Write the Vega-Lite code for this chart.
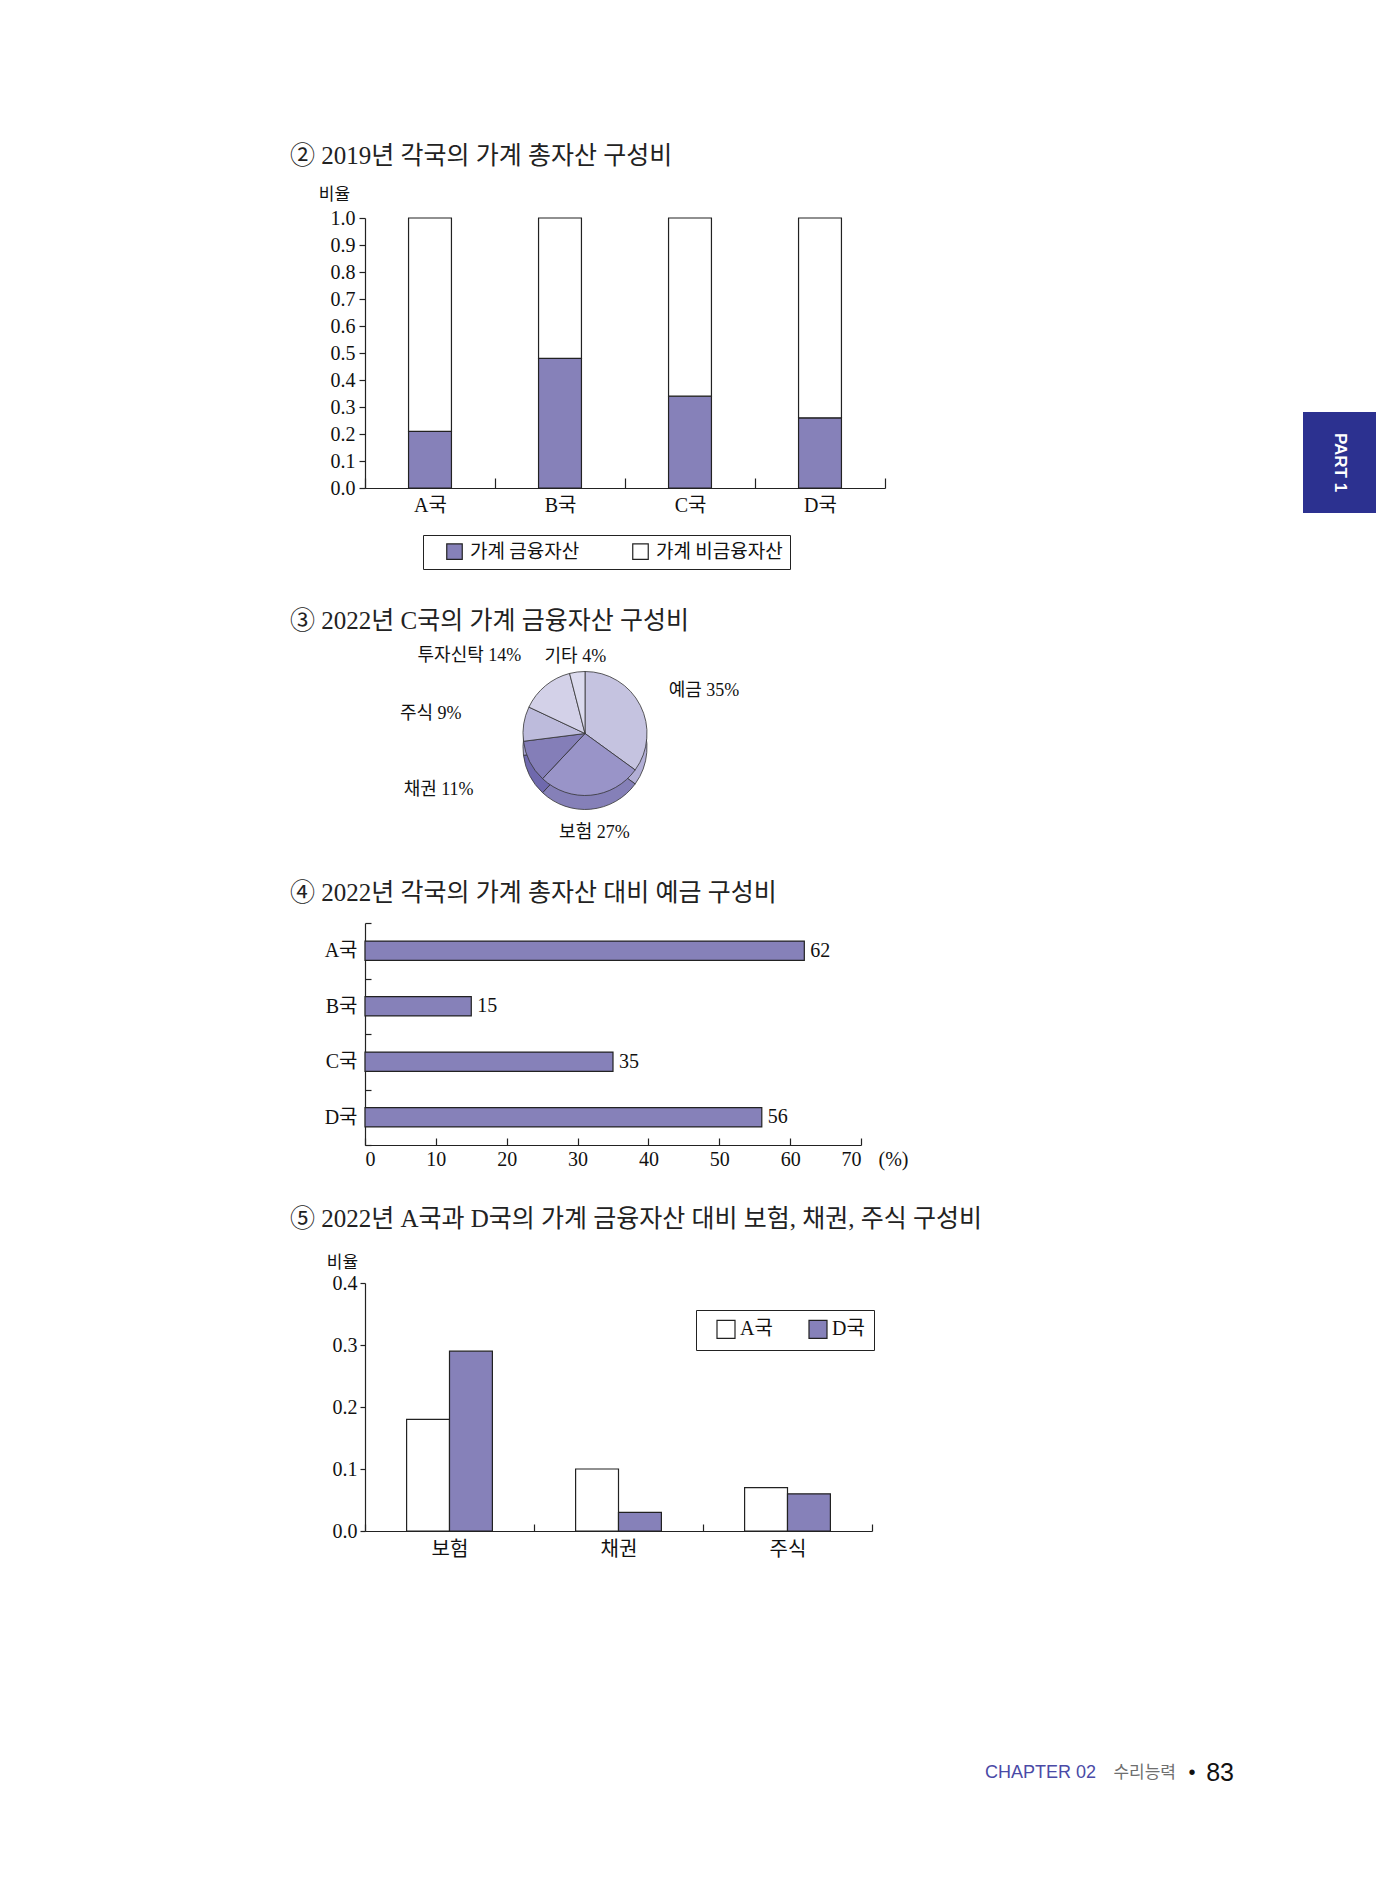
{
  "$schema": "https://vega.github.io/schema/vega-lite/v6.json",
  "background": "white",
  "padding": {"left": 290, "top": 144, "right": 0, "bottom": 0},
  "bounds": "flush",
  "spacing": 938,
  "config": {
    "view": {"stroke": null},
    "font": "Liberation Serif, Noto Sans CJK KR",
    "axis": {
      "grid": false,
      "domainColor": "#222",
      "tickColor": "#222",
      "domainWidth": 1.2,
      "tickWidth": 1.2,
      "labelColor": "#111",
      "titleColor": "#111",
      "labelFont": "Liberation Serif, Noto Sans CJK KR",
      "labelFontSize": 20,
      "titleFont": "Noto Sans CJK KR",
      "titleFontSize": 17,
      "titleFontWeight": "normal"
    },
    "title": {
      "font": "Liberation Serif, Noto Sans CJK KR",
      "fontSize": 25,
      "fontWeight": "normal",
      "color": "#222",
      "anchor": "start",
      "frame": "group",
      "dx": -75
    },
    "legend": {
      "labelColor": "#111",
      "strokeColor": "#222",
      "symbolStrokeColor": "#222",
      "symbolStrokeWidth": 1.2,
      "symbolType": "square",
      "symbolOpacity": 1
    }
  },
  "hconcat": [
    {
      "spacing": 138,
      "bounds": "flush",
      "resolve": {"scale": {"color": "independent"}, "legend": {"color": "independent"}},
      "vconcat": [
        {
          "width": 520,
          "height": 270,
          "title": {"text": "② 2019년 각국의 가계 총자산 구성비", "offset": 16},
          "data": {"values": [
            {"country": "A국", "type": "가계 금융자산", "value": 0.21},
            {"country": "A국", "type": "가계 비금융자산", "value": 0.79},
            {"country": "B국", "type": "가계 금융자산", "value": 0.48},
            {"country": "B국", "type": "가계 비금융자산", "value": 0.52},
            {"country": "C국", "type": "가계 금융자산", "value": 0.34},
            {"country": "C국", "type": "가계 비금융자산", "value": 0.66},
            {"country": "D국", "type": "가계 금융자산", "value": 0.26},
            {"country": "D국", "type": "가계 비금융자산", "value": 0.74}
          ]},
          "mark": {"type": "bar", "stroke": "#222", "strokeWidth": 1.2, "width": {"band": 0.33}},
          "encoding": {
            "x": {
              "field": "country", "type": "nominal", "sort": null,
              "scale": {"paddingInner": 0, "paddingOuter": 0},
              "axis": {"title": null, "labelAngle": 0, "tickBand": "extent", "tickSize": -10, "labelPadding": 17}
            },
            "y": {
              "field": "value", "type": "quantitative", "stack": "zero",
              "scale": {"domain": [0, 1], "nice": false},
              "axis": {
                "title": "비율", "titleAngle": 0, "titleAlign": "center", "titleBaseline": "alphabetic",
                "titleX": -31, "titleY": -19,
                "values": [0, 0.1, 0.2, 0.3, 0.4, 0.5, 0.6, 0.7, 0.8, 0.9, 1.0],
                "format": ".1f", "tickSize": 6, "labelPadding": 4
              }
            },
            "color": {
              "field": "type", "type": "nominal",
              "sort": ["가계 금융자산", "가계 비금융자산"],
              "scale": {"domain": ["가계 금융자산", "가계 비금융자산"], "range": ["#8681b9", "#ffffff"]},
              "legend": {
                "title": null, "orient": "none", "legendX": 58, "legendY": 317,
                "direction": "horizontal", "symbolSize": 240, "padding": 7, "symbolOffset": 15,
                "columnPadding": 36, "labelOffset": 6,
                "labelFont": "Noto Sans CJK KR", "labelFontSize": 19
              }
            },
            "order": {"field": "type", "type": "nominal", "sort": "ascending"}
          }
        },
        {
          "width": 440,
          "height": 159,
          "title": {"text": "③ 2022년 C국의 가계 금융자산 구성비", "offset": -34},
          "data": {"values": [
            {"item": "예금", "pct": 35, "label": "예금 35%"},
            {"item": "보험", "pct": 27, "label": "보험 27%"},
            {"item": "채권", "pct": 11, "label": "채권 11%"},
            {"item": "주식", "pct": 9, "label": "주식 9%"},
            {"item": "투자신탁", "pct": 14, "label": "투자신탁 14%"},
            {"item": "기타", "pct": 4, "label": "기타 4%"}
          ]},
          "transform": [{"window": [{"op": "row_number", "as": "rn"}]}],
          "encoding": {
            "theta": {"field": "pct", "type": "quantitative", "stack": true},
            "order": {"field": "rn", "type": "quantitative", "sort": "ascending"}
          },
          "layer": [
            {
              "mark": {"type": "arc", "outerRadius": 62, "yOffset": 42, "stroke": "#333", "strokeWidth": 0.8},
              "encoding": {
                "color": {
                  "field": "item", "type": "nominal",
                  "scale": {"domain": ["예금", "보험", "채권", "주식", "투자신탁", "기타"],
                            "range": ["#b2afd6", "#8580b8", "#6f69ad", "#a5a2cf", "#bcb9dc", "#c6c4e2"]},
                  "legend": null
                }
              }
            },
            {
              "mark": {"type": "arc", "outerRadius": 62, "yOffset": 28, "stroke": "#333", "strokeWidth": 0.8},
              "encoding": {
                "fill": {
                  "field": "item", "type": "nominal",
                  "scale": {"domain": ["예금", "보험", "채권", "주식", "투자신탁", "기타"],
                            "range": ["#c5c3e0", "#9994c8", "#847eb8", "#bdbbdc", "#d3d1e8", "#dcdbee"]},
                  "legend": null
                }
              }
            },
            {
              "mark": {"type": "text", "radius": 94, "yOffset": 28, "align": "left", "baseline": "middle", "fontSize": 18, "color": "#111"},
              "encoding": {
                "text": {"condition": {"test": "datum.item === '예금'", "field": "label"}, "value": ""}
              }
            },
            {
              "mark": {"type": "text", "radius": 100, "yOffset": 28, "align": "center", "baseline": "middle", "fontSize": 18, "color": "#111"},
              "encoding": {
                "text": {"condition": {"test": "datum.item === '보험'", "field": "label"}, "value": ""}
              }
            },
            {
              "mark": {"type": "text", "radius": 77, "yOffset": 28, "align": "center", "baseline": "middle", "fontSize": 18, "color": "#111"},
              "encoding": {
                "text": {"condition": {"test": "datum.item === '기타'", "field": "label"}, "value": ""}
              }
            },
            {
              "mark": {"type": "text", "radius": 100, "yOffset": 28, "align": "right", "baseline": "middle", "fontSize": 18, "color": "#111"},
              "encoding": {
                "text": {"condition": {"test": "datum.item === '투자신탁'", "field": "label"}, "value": ""}
              }
            },
            {
              "mark": {"type": "text", "radius": 125, "yOffset": 28, "align": "right", "baseline": "middle", "fontSize": 18, "color": "#111"},
              "encoding": {
                "text": {"condition": {"test": "indexof(['채권', '주식'], datum.item) >= 0", "field": "label"}, "value": ""}
              }
            }
          ],
          "resolve": {"scale": {"color": "independent", "fill": "independent"}}
        },
        {
          "width": 496,
          "height": 222,
          "title": {"text": "④ 2022년 각국의 가계 총자산 대비 예금 구성비", "offset": 7},
          "data": {"values": [
            {"country": "A국", "value": 62},
            {"country": "B국", "value": 15},
            {"country": "C국", "value": 35},
            {"country": "D국", "value": 56}
          ]},
          "encoding": {
            "y": {
              "field": "country", "type": "nominal", "sort": null,
              "scale": {"paddingInner": 0, "paddingOuter": 0},
              "axis": {"title": null, "tickBand": "extent", "tickSize": -6, "labelPadding": 14}
            },
            "x": {
              "field": "value", "type": "quantitative",
              "scale": {"domain": [0, 70], "nice": false},
              "axis": {
                "values": [0, 10, 20, 30, 40, 50, 60, 70], "tickSize": -7, "labelPadding": 11,
                "title": "(%)", "titleFont": "Liberation Serif", "titleFontSize": 20,
                "titleX": 528, "titleY": 14, "titleAlign": "center", "titleBaseline": "middle"
              }
            }
          },
          "layer": [
            {"mark": {"type": "bar", "fill": "#8681b9", "stroke": "#222", "strokeWidth": 1.2, "height": {"band": 0.35}}},
            {"mark": {"type": "text", "align": "left", "baseline": "middle", "dx": 6, "fontSize": 20, "color": "#111"},
             "encoding": {"text": {"field": "value"}}}
          ]
        },
        {
          "width": 507,
          "height": 248,
          "title": {"text": "⑤ 2022년 A국과 D국의 가계 금융자산 대비 보험, 채권, 주식 구성비", "offset": 21},
          "data": {"values": [
            {"item": "보험", "country": "A국", "value": 0.18},
            {"item": "보험", "country": "D국", "value": 0.29},
            {"item": "채권", "country": "A국", "value": 0.10},
            {"item": "채권", "country": "D국", "value": 0.03},
            {"item": "주식", "country": "A국", "value": 0.07},
            {"item": "주식", "country": "D국", "value": 0.06}
          ]},
          "mark": {"type": "bar", "stroke": "#222", "strokeWidth": 1.2},
          "encoding": {
            "x": {
              "field": "item", "type": "nominal", "sort": null,
              "scale": {"paddingInner": 0, "paddingOuter": 0},
              "axis": {"title": null, "labelAngle": 0, "tickBand": "extent", "tickSize": -7, "labelPadding": 15}
            },
            "xOffset": {
              "field": "country", "type": "nominal", "sort": ["A국", "D국"],
              "scale": {"paddingInner": 0, "paddingOuter": 0.97}
            },
            "y": {
              "field": "value", "type": "quantitative",
              "scale": {"domain": [0, 0.4], "nice": false},
              "axis": {
                "title": "비율", "titleAngle": 0, "titleAlign": "center", "titleBaseline": "alphabetic",
                "titleX": -23, "titleY": -16,
                "values": [0, 0.1, 0.2, 0.3, 0.4], "format": ".1f", "tickSize": 5, "labelPadding": 3
              }
            },
            "color": {
              "field": "country", "type": "nominal", "sort": ["A국", "D국"],
              "scale": {"domain": ["A국", "D국"], "range": ["#ffffff", "#8681b9"]},
              "legend": {
                "title": null, "orient": "none", "legendX": 331, "legendY": 27,
                "direction": "horizontal", "symbolSize": 324, "padding": 9, "symbolOffset": 11,
                "columnPadding": 24, "labelOffset": 4,
                "labelFont": "Liberation Serif, Noto Sans CJK KR", "labelFontSize": 20
              }
            }
          }
        },
        {
          "width": 869,
          "height": 208,
          "data": {"values": [
            {"part": "a", "t": "CHAPTER 02"},
            {"part": "b", "t": "수리능력"},
            {"part": "c", "t": "•"},
            {"part": "d", "t": "83"}
          ]},
          "encoding": {"x": {"value": "width"}, "text": {"field": "t"}},
          "layer": [
            {"transform": [{"filter": "datum.part === 'a'"}],
             "mark": {"type": "text", "align": "right", "baseline": "middle", "dx": -138, "font": "Liberation Sans", "fontSize": 18, "color": "#4a4aa6"}},
            {"transform": [{"filter": "datum.part === 'b'"}],
             "mark": {"type": "text", "align": "right", "baseline": "middle", "dx": -58, "font": "Noto Sans CJK KR", "fontSize": 17, "color": "#6e6e6e"}},
            {"transform": [{"filter": "datum.part === 'c'"}],
             "mark": {"type": "text", "align": "center", "baseline": "middle", "dx": -42, "font": "Liberation Sans", "fontSize": 20, "color": "#111"}},
            {"transform": [{"filter": "datum.part === 'd'"}],
             "mark": {"type": "text", "align": "right", "baseline": "middle", "dx": 0, "font": "Liberation Sans", "fontSize": 25, "color": "#111"}}
          ]
        }
      ]
    },
    {
      "spacing": 0,
      "bounds": "flush",
      "vconcat": [
        {"width": 73, "height": 194, "data": {"values": []}, "mark": "text", "encoding": {}},
        {
          "width": 73, "height": 101,
          "view": {"fill": "#2c3190", "stroke": null},
          "data": {"values": [{"t": "PART 1"}]},
          "mark": {"type": "text", "angle": 90, "color": "#ffffff", "font": "Liberation Sans", "fontWeight": "bold", "fontSize": 17, "baseline": "middle", "align": "center"},
          "encoding": {"text": {"field": "t"}}
        }
      ]
    }
  ]
}
